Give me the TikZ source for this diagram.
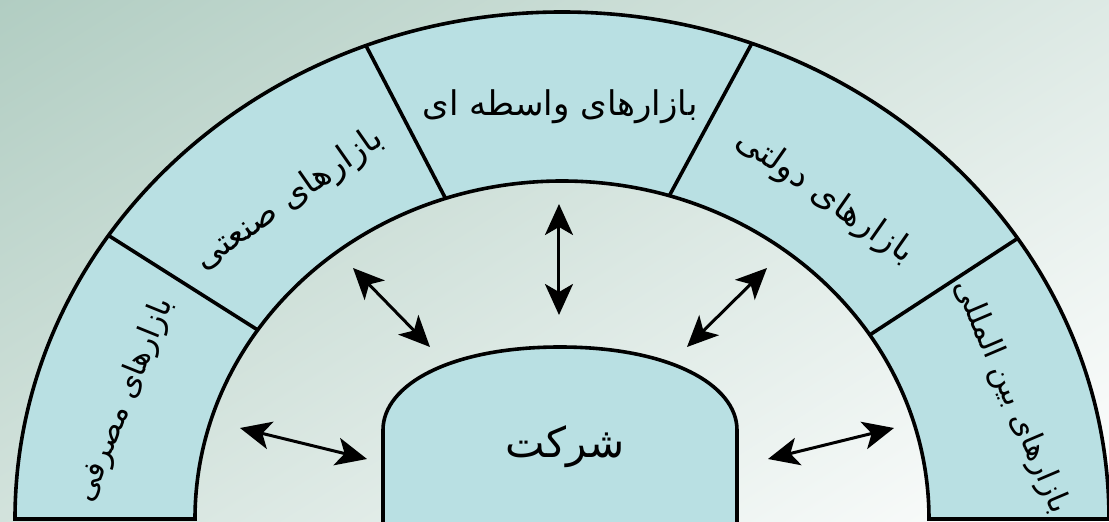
\documentclass[tikz,border=0pt]{standalone}
\usepackage{fontspec}
\usetikzlibrary{arrows,arrows.meta,positioning}
\newfontfamily\arabicfont[Script=Arabic]{DejaVu Sans}
\TeXXeTstate=1
\definecolor{ringcyan}{HTML}{B9E0E3}
\definecolor{bgsage}{HTML}{B1CDC2}

\begin{document}
\begin{tikzpicture}[x=1pt,y=1pt,line width=3.6pt,
  market/.style={font=\arabicfont\fontsize{34}{40}\selectfont},
  sidemarket/.style={font=\arabicfont\fontsize{31}{36}\selectfont},
  link/.style={<->,line width=3pt,>={Stealth[length=31pt,width=28pt,inset=8pt]}}]
\useasboundingbox (-562,-3) rectangle (547,519);
\clip (-562,-3) rectangle (547,519);
\shade[top color=bgsage,bottom color=white,shading angle=32]
  (-700,-150) rectangle (700,670);
% ring of markets
\filldraw[fill=ringcyan]
  (-547,0) arc[start angle=180,end angle=0,x radius=547,y radius=507]
  -- (367,0) arc[start angle=0,end angle=180,x radius=367,y radius=338] -- cycle;
\draw (146:547 and 507) -- (146:367 and 338);
\draw (111:547 and 507) -- (108.5:367 and 338);
\draw (69.7:547 and 507) -- (73:367 and 338);
\draw (33.6:547 and 507) -- (33:367 and 338);
% the firm
\filldraw[fill=ringcyan]
  (-179,-20) -- (-179,89) .. controls (-179,134) and (-112,172) .. (-2,172)
  .. controls (108,172) and (175,134) .. (175,89) -- (175,-20) -- cycle;
\node[font=\arabicfont\fontsize{42}{48}\selectfont] (firm) at (3,72) {\beginR شرکت\endR};
\node[sidemarket,rotate=68] (consumer) at (-437,119) {\beginR بازارهای مصرفی\endR};
\node[market,rotate=35] (industry) at (-273,319) {\beginR بازارهای صنعتی\endR};
\node[market] (reseller) at (-2,412) {\beginR بازارهای واسطه ای\endR};
\node[market,rotate=-35] (govt) at (263,322) {\beginR بازارهای دولتی\endR};
\node[sidemarket,rotate=-67] (intl) at (449,122) {\beginR بازارهای بین المللی\endR};
% arrows
\coordinate (l1) at (-322,91);  \coordinate (l2) at (-195,60);
\coordinate (ul1) at (-209,251); \coordinate (ul2) at (-132,172);
\coordinate (t1) at (-3,315);   \coordinate (t2) at (-3,204);
\coordinate (ur1) at (205,251); \coordinate (ur2) at (125,172);
\coordinate (r1) at (206,60);   \coordinate (r2) at (332,91);
\draw[link] (l1) -- (l2);
\draw[link] (ul1) -- (ul2);
\draw[link] (t1) -- (t2);
\draw[link] (ur1) -- (ur2);
\draw[link] (r1) -- (r2);
\end{tikzpicture}
\end{document}
